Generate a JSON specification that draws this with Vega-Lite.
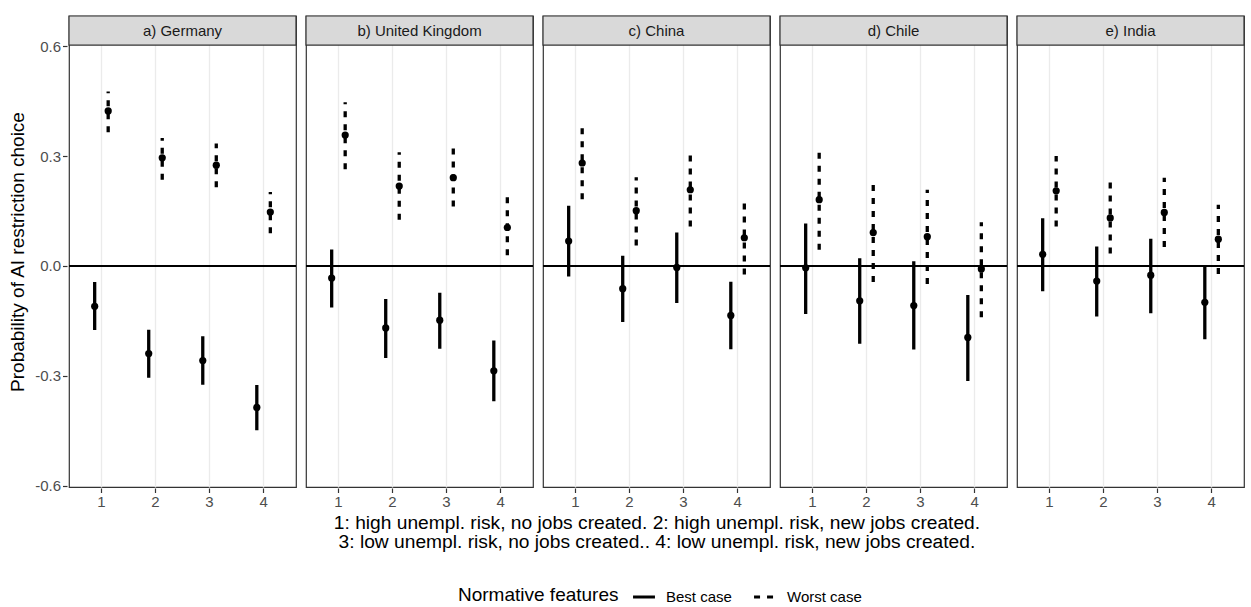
{
  "$schema": "https://vega.github.io/schema/vega-lite/v6.json",
  "padding": {"left": 8, "top": 14, "right": 2, "bottom": 4},
  "background": "white",
  "config": {
    "font": "Liberation Sans",
    "view": {"stroke": "#333333", "strokeWidth": 1.2},
    "axis": {
      "domain": false,
      "labelColor": "#4d4d4d",
      "labelFontSize": 15,
      "tickColor": "#333333",
      "tickSize": 4.5,
      "tickWidth": 1.2,
      "labelPadding": 2,
      "gridColor": "#ebebeb",
      "titleFontWeight": "normal",
      "titleColor": "black",
      "titleFontSize": 19,
      "labelOverlap": false
    },
    "legend": {
      "direction": "horizontal",
      "titleOrient": "left",
      "titleFontSize": 19,
      "titleFontWeight": "normal",
      "titleColor": "black",
      "titleBaseline": "middle",
      "labelFontSize": 15,
      "labelColor": "black",
      "symbolType": "stroke",
      "symbolStrokeColor": "black",
      "symbolStrokeWidth": 3.2,
      "symbolSize": 480,
      "columnPadding": 15,
      "labelOffset": 9,
      "titlePadding": 12
    }
  },
  "data": {
    "values": [
      {"country": "a) Germany", "scenario": "1", "case": "Best case", "est": -0.110, "lo": -0.175, "hi": -0.044},
      {"country": "a) Germany", "scenario": "2", "case": "Best case", "est": -0.239, "lo": -0.305, "hi": -0.174},
      {"country": "a) Germany", "scenario": "3", "case": "Best case", "est": -0.258, "lo": -0.324, "hi": -0.192},
      {"country": "a) Germany", "scenario": "4", "case": "Best case", "est": -0.386, "lo": -0.448, "hi": -0.325},
      {"country": "a) Germany", "scenario": "1", "case": "Worst case", "est": 0.423, "lo": 0.365, "hi": 0.476},
      {"country": "a) Germany", "scenario": "2", "case": "Worst case", "est": 0.295, "lo": 0.235, "hi": 0.349},
      {"country": "a) Germany", "scenario": "3", "case": "Worst case", "est": 0.275, "lo": 0.215, "hi": 0.334},
      {"country": "a) Germany", "scenario": "4", "case": "Worst case", "est": 0.147, "lo": 0.089, "hi": 0.202},
      {"country": "b) United Kingdom", "scenario": "1", "case": "Best case", "est": -0.033, "lo": -0.113, "hi": 0.045},
      {"country": "b) United Kingdom", "scenario": "2", "case": "Best case", "est": -0.169, "lo": -0.251, "hi": -0.090},
      {"country": "b) United Kingdom", "scenario": "3", "case": "Best case", "est": -0.148, "lo": -0.226, "hi": -0.073},
      {"country": "b) United Kingdom", "scenario": "4", "case": "Best case", "est": -0.286, "lo": -0.369, "hi": -0.203},
      {"country": "b) United Kingdom", "scenario": "1", "case": "Worst case", "est": 0.357, "lo": 0.264, "hi": 0.447},
      {"country": "b) United Kingdom", "scenario": "2", "case": "Worst case", "est": 0.218, "lo": 0.126, "hi": 0.310},
      {"country": "b) United Kingdom", "scenario": "3", "case": "Worst case", "est": 0.241, "lo": 0.162, "hi": 0.323},
      {"country": "b) United Kingdom", "scenario": "4", "case": "Worst case", "est": 0.105, "lo": 0.029, "hi": 0.192},
      {"country": "c) China", "scenario": "1", "case": "Best case", "est": 0.068, "lo": -0.029, "hi": 0.164},
      {"country": "c) China", "scenario": "2", "case": "Best case", "est": -0.062, "lo": -0.153, "hi": 0.028},
      {"country": "c) China", "scenario": "3", "case": "Best case", "est": -0.004, "lo": -0.101, "hi": 0.091},
      {"country": "c) China", "scenario": "4", "case": "Best case", "est": -0.135, "lo": -0.227, "hi": -0.043},
      {"country": "c) China", "scenario": "1", "case": "Worst case", "est": 0.281, "lo": 0.182, "hi": 0.377},
      {"country": "c) China", "scenario": "2", "case": "Worst case", "est": 0.151, "lo": 0.056, "hi": 0.242},
      {"country": "c) China", "scenario": "3", "case": "Worst case", "est": 0.208, "lo": 0.108, "hi": 0.306},
      {"country": "c) China", "scenario": "4", "case": "Worst case", "est": 0.077, "lo": -0.023, "hi": 0.178},
      {"country": "d) Chile", "scenario": "1", "case": "Best case", "est": -0.005, "lo": -0.131, "hi": 0.116},
      {"country": "d) Chile", "scenario": "2", "case": "Best case", "est": -0.095, "lo": -0.212, "hi": 0.021},
      {"country": "d) Chile", "scenario": "3", "case": "Best case", "est": -0.108, "lo": -0.228, "hi": 0.013},
      {"country": "d) Chile", "scenario": "4", "case": "Best case", "est": -0.195, "lo": -0.314, "hi": -0.079},
      {"country": "d) Chile", "scenario": "1", "case": "Worst case", "est": 0.181, "lo": 0.044, "hi": 0.318},
      {"country": "d) Chile", "scenario": "2", "case": "Worst case", "est": 0.091, "lo": -0.044, "hi": 0.226},
      {"country": "d) Chile", "scenario": "3", "case": "Worst case", "est": 0.080, "lo": -0.049, "hi": 0.208},
      {"country": "d) Chile", "scenario": "4", "case": "Worst case", "est": -0.008, "lo": -0.140, "hi": 0.119},
      {"country": "e) India", "scenario": "1", "case": "Best case", "est": 0.032, "lo": -0.069, "hi": 0.130},
      {"country": "e) India", "scenario": "2", "case": "Best case", "est": -0.041, "lo": -0.138, "hi": 0.053},
      {"country": "e) India", "scenario": "3", "case": "Best case", "est": -0.025, "lo": -0.129, "hi": 0.074},
      {"country": "e) India", "scenario": "4", "case": "Best case", "est": -0.099, "lo": -0.200, "hi": 0.000},
      {"country": "e) India", "scenario": "1", "case": "Worst case", "est": 0.205, "lo": 0.108, "hi": 0.300},
      {"country": "e) India", "scenario": "2", "case": "Worst case", "est": 0.131, "lo": 0.034, "hi": 0.229},
      {"country": "e) India", "scenario": "3", "case": "Worst case", "est": 0.146, "lo": 0.052, "hi": 0.241},
      {"country": "e) India", "scenario": "4", "case": "Worst case", "est": 0.073, "lo": -0.022, "hi": 0.167}
    ]
  },
  "vconcat": [
    {
      "title": {
        "text": ["1: high unempl. risk, no jobs created. 2: high unempl. risk, new jobs created.", "3: low  unempl. risk, no jobs created.. 4: low unempl. risk, new jobs created."],
        "orient": "bottom",
        "anchor": "middle",
        "fontSize": 19.2,
        "fontWeight": "normal",
        "color": "black",
        "lineHeight": 19,
        "offset": 4,
        "dx": 30
      },
      "facet": {
        "column": {"field": "country", "type": "nominal", "header": {"labels": false, "title": null}}
      },
      "spacing": 6,
      "spec": {
        "width": 227,
        "height": 471,
        "layer": [
          {
            "mark": {"type": "rule", "color": "black", "strokeWidth": 1.3},
            "encoding": {
              "y": {
                "datum": 0,
                "type": "quantitative",
                "scale": {"domain": [-0.603, 0.682], "nice": false, "zero": false},
                "axis": {
                  "title": "Probability of AI restriction choice",
                  "titlePadding": 7,
                  "values": [-0.6, -0.45, -0.3, -0.15, 0, 0.15, 0.3, 0.45, 0.6],
                  "labelExpr": "round(abs(datum.value)*100) % 30 != 0 ? '' : (datum.value < 0 ? '-' : '') + format(abs(datum.value), '.1f')",
                  "tickOpacity": {"condition": {"test": "round(abs(datum.value)*100) % 30 != 0", "value": 0}, "value": 1},
                  "gridWidth": {"condition": {"test": "round(abs(datum.value)*100) % 30 != 0", "value": 0.7}, "value": 1.3}
                }
              }
            }
          },
          {
            "mark": {"type": "rule", "color": "black", "strokeWidth": 3.3, "strokeCap": "butt"},
            "encoding": {
              "x": {
                "field": "scenario",
                "type": "ordinal",
                "scale": {"type": "band", "paddingInner": 0, "paddingOuter": 0.1},
                "axis": {"title": null, "labelAngle": 0, "grid": true, "gridWidth": 1.3}
              },
              "xOffset": {"field": "case", "type": "nominal", "scale": {"paddingInner": 0, "paddingOuter": 1}},
              "y": {"field": "lo", "type": "quantitative", "scale": {"domain": [-0.603, 0.682], "nice": false, "zero": false}},
              "y2": {"field": "hi"},
              "strokeDash": {
                "field": "case",
                "type": "nominal",
                "scale": {"domain": ["Best case", "Worst case"], "range": [[1, 0], [6, 7]]},
                "legend": {"title": "Normative features", "orient": "none", "legendX": 389, "legendY": 568}
              }
            }
          },
          {
            "mark": {"type": "point", "filled": true, "color": "black", "opacity": 1, "size": 52},
            "encoding": {
              "x": {"field": "scenario", "type": "ordinal"},
              "xOffset": {"field": "case", "type": "nominal"},
              "y": {"field": "est", "type": "quantitative", "scale": {"domain": [-0.603, 0.682], "nice": false, "zero": false}}
            }
          },
          {
            "transform": [{"aggregate": [{"op": "count", "as": "n"}], "groupby": ["country"]}],
            "mark": {"type": "rect", "fill": "#d9d9d9", "stroke": "#333333", "strokeWidth": 1.2},
            "encoding": {
              "y": {"datum": 0.6027, "type": "quantitative", "scale": {"domain": [-0.603, 0.682], "nice": false, "zero": false}},
              "y2": {"datum": 0.682}
            }
          },
          {
            "transform": [{"aggregate": [{"op": "count", "as": "n"}], "groupby": ["country"]}],
            "mark": {"type": "text", "fontSize": 15, "color": "#1a1a1a", "baseline": "middle", "align": "center"},
            "encoding": {
              "y": {"datum": 0.642, "type": "quantitative", "scale": {"domain": [-0.603, 0.682], "nice": false, "zero": false}},
              "text": {"field": "country"}
            }
          }
        ]
      }
    }
  ]
}
